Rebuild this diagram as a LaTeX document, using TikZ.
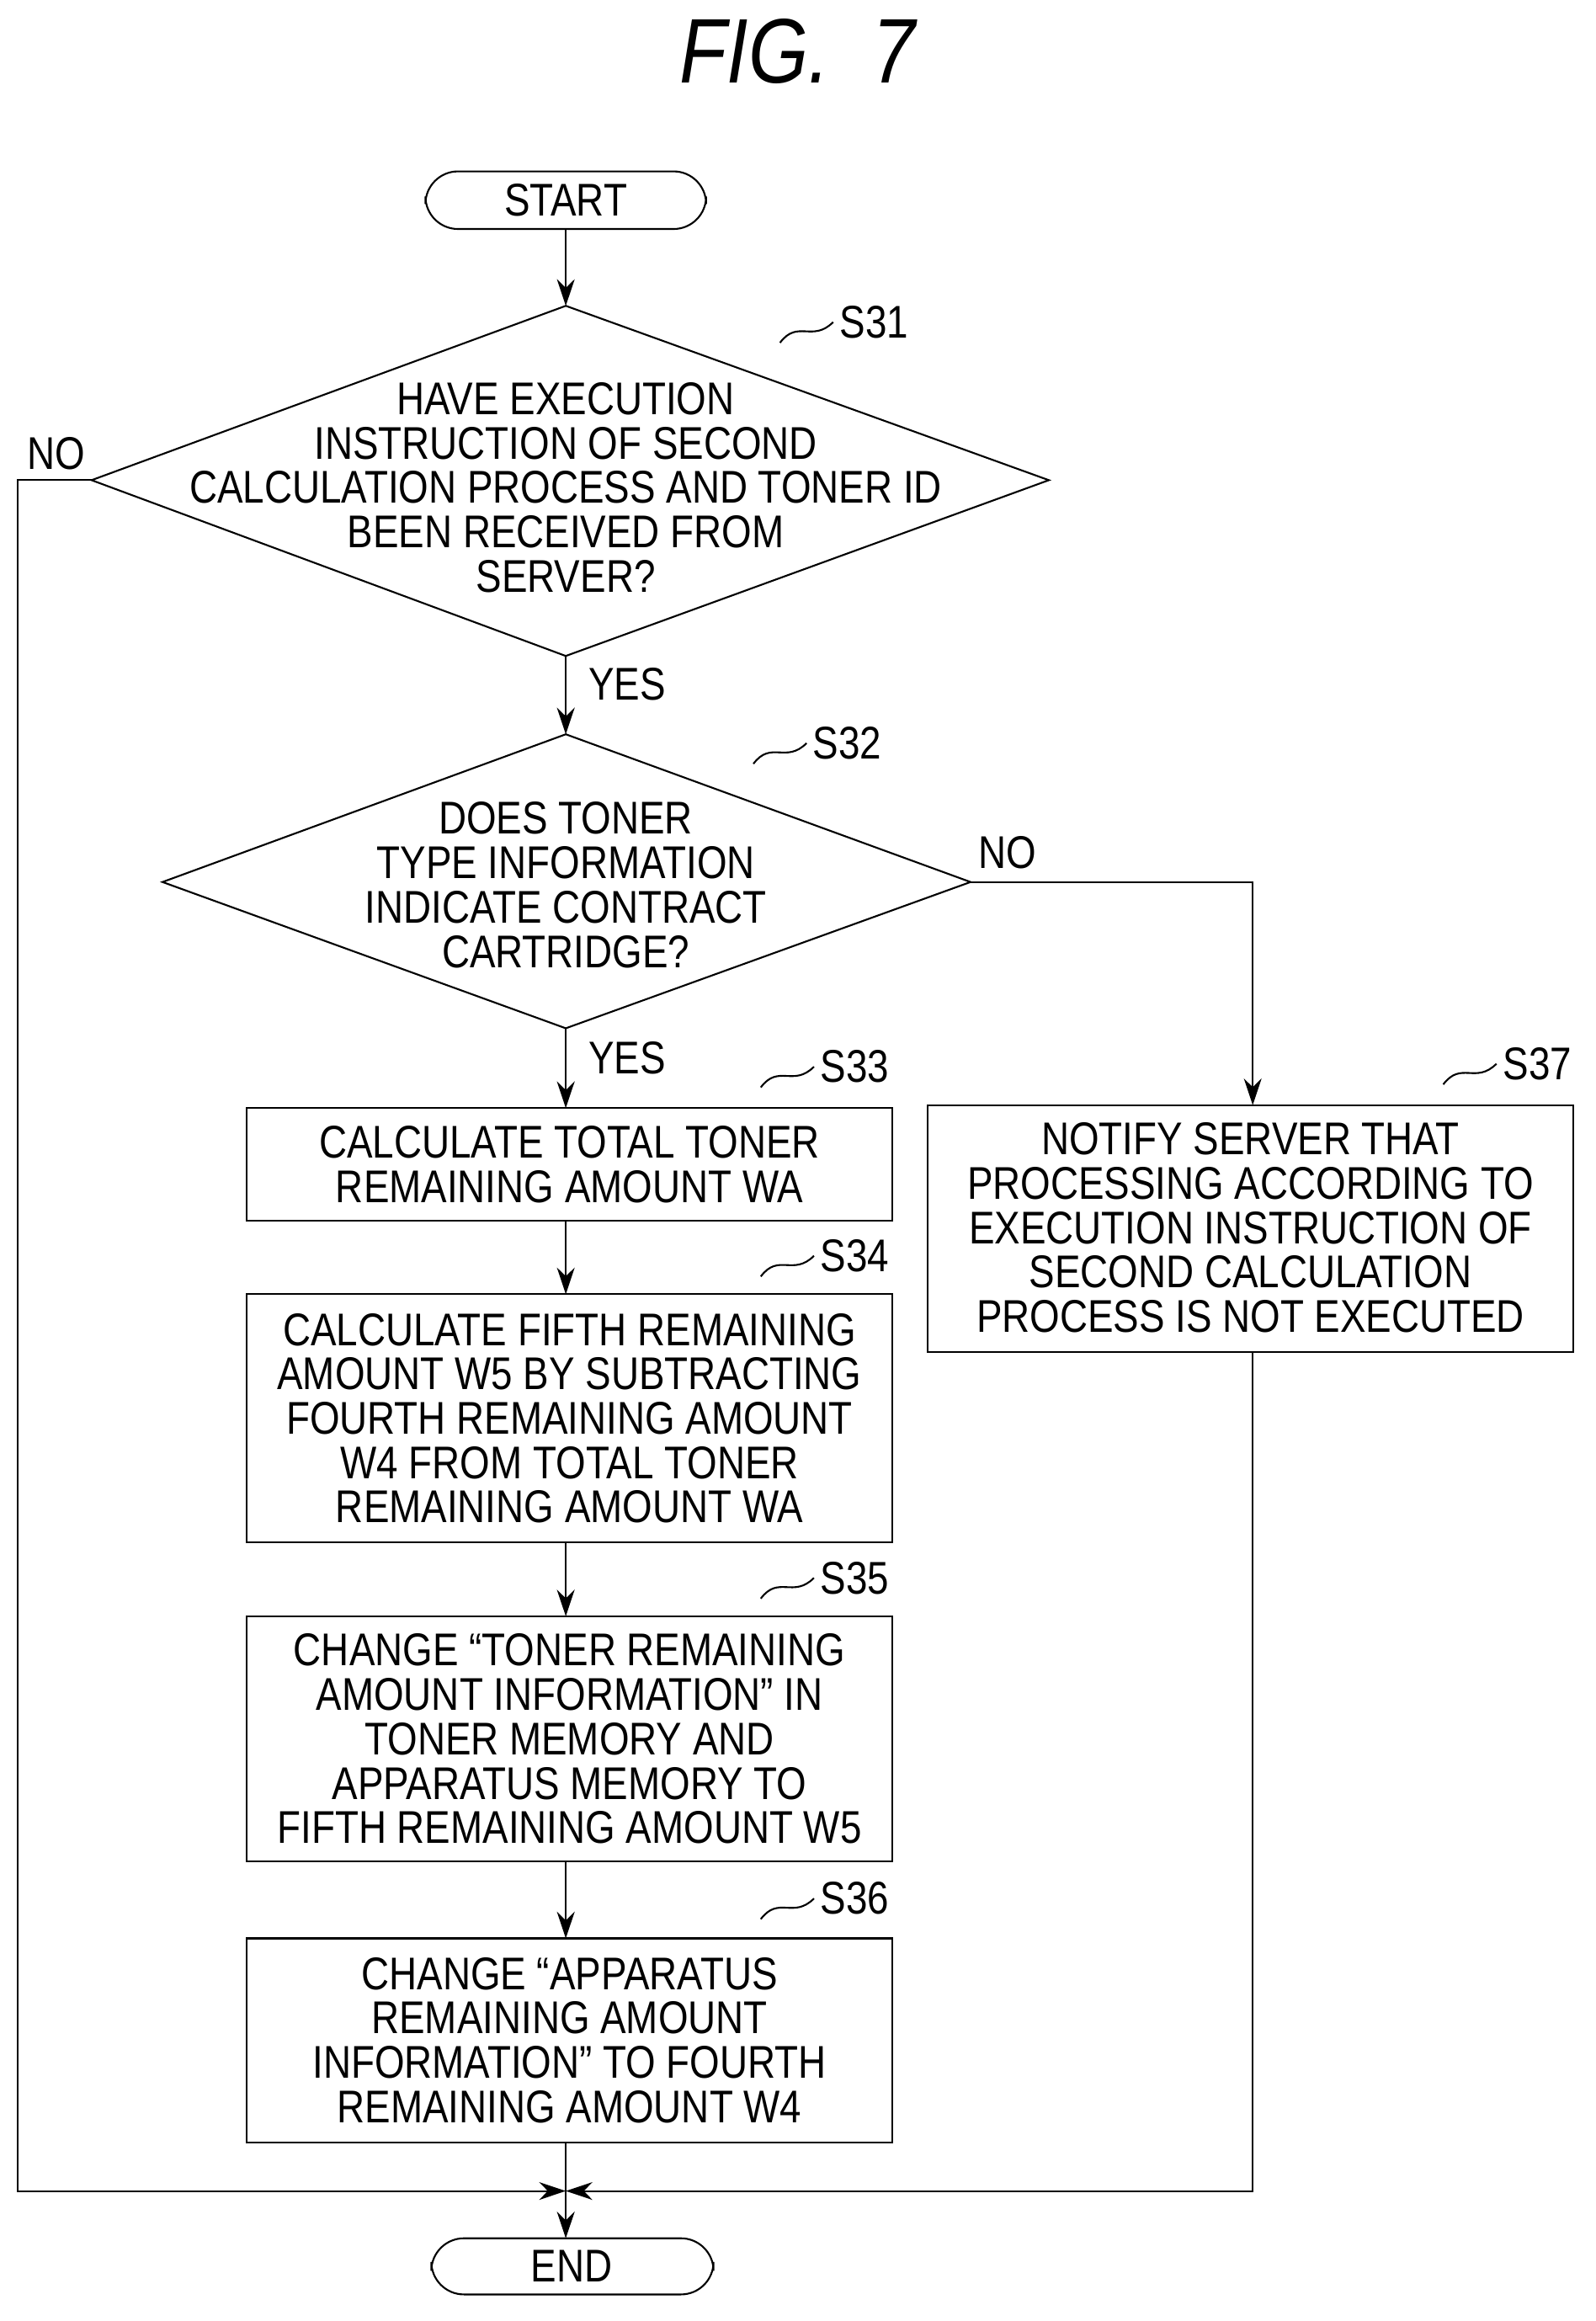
\documentclass[tikz,border=0pt]{standalone}
\usepackage{fontspec}
\setmainfont{Liberation Sans}[FakeStretch=0.84]
\usetikzlibrary{arrows.meta,shapes.geometric}
\tikzset{
  txt/.style={font=\fontsize{15.5pt}{15pt}\selectfont,align=center,inner sep=0pt},
  box/.style={draw,line width=0.6pt},
  term/.style={draw,line width=0.6pt,rounded corners=11pt},
  lbl/.style={font=\fontsize{15.5pt}{15pt}\selectfont,anchor=west,inner sep=0pt},
  arr/.style={-{Stealth[length=9pt,width=6pt]},line width=0.6pt},
  ln/.style={line width=0.6pt}
}
\begin{document}
\begin{tikzpicture}[x=0.01755cm,y=-0.01755cm]
\useasboundingbox (0,0) rectangle (1080,1571);
\node[font=\fontsize{31pt}{31pt}\selectfont\itshape] (title) at (540,35) {FIG.\ \ 7};
% terminals
\draw[term] (288,116) rectangle (478,155);
\node[txt] (start) at (383,135.5) {START};
\draw[term] (292,1515) rectangle (483,1553);
\node[txt] (end) at (387,1534) {END};
% decisions
\draw[ln] (383,207) -- (710,325) -- (383,444) -- (62,325) -- cycle;
\node[txt] (s31) at (383,330) {HAVE EXECUTION\\INSTRUCTION OF SECOND\\CALCULATION PROCESS AND TONER ID\\BEEN RECEIVED FROM\\SERVER?};
\draw[ln] (383,497) -- (657,597) -- (383,696) -- (110,597) -- cycle;
\node[txt] (s32) at (383,599) {DOES TONER\\TYPE INFORMATION\\INDICATE CONTRACT\\CARTRIDGE?};
% boxes
\draw[box] (167,750) rectangle (604,826);
\node[txt] (s33) at (385.5,788) {CALCULATE TOTAL TONER\\REMAINING AMOUNT WA};
\draw[box] (167,876) rectangle (604,1044);
\node[txt] (s34) at (385.5,960) {CALCULATE FIFTH REMAINING\\AMOUNT W5 BY SUBTRACTING\\FOURTH REMAINING AMOUNT\\W4 FROM TOTAL TONER\\REMAINING AMOUNT WA};
\draw[box] (167,1094) rectangle (604,1260);
\node[txt] (s35) at (385.5,1177) {CHANGE “TONER REMAINING\\AMOUNT INFORMATION” IN\\TONER MEMORY AND\\APPARATUS MEMORY TO\\FIFTH REMAINING AMOUNT W5};
\draw[box] (167,1312) rectangle (604,1450);
\node[txt] (s36) at (385.5,1381) {CHANGE “APPARATUS\\REMAINING AMOUNT\\INFORMATION” TO FOURTH\\REMAINING AMOUNT W4};
\draw[box] (628,748) rectangle (1065,915);
\node[txt] (s37) at (846.5,831) {NOTIFY SERVER THAT\\PROCESSING ACCORDING TO\\EXECUTION INSTRUCTION OF\\SECOND CALCULATION\\PROCESS IS NOT EXECUTED};
% step labels
\foreach \n/\x/\y in {31/568/218,32/550/503,33/555/722,34/555/850,35/555/1068,36/555/1285,37/1017/720}{
  \node[lbl] (l\n) at (\x,\y) {S\n};
  \draw[ln] (\x-40,\y+14) .. controls (\x-28,\y-2) and (\x-18,\y+14) .. (\x-4,\y);
}
% connector points
\coordinate (c31t) at (383,207);
\coordinate (c31b) at (383,444);
\coordinate (c31l) at (62,325);
\coordinate (c32t) at (383,497);
\coordinate (c32b) at (383,696);
\coordinate (c32r) at (657,597);
\coordinate (m) at (383,1483);
\draw[arr] (383,155) -- (c31t);
\draw[arr] (c31b) -- (c32t);
\draw[arr] (c32b) -- (383,750);
\draw[arr] (383,826) -- (383,876);
\draw[arr] (383,1044) -- (383,1094);
\draw[arr] (383,1260) -- (383,1312);
\draw[arr] (383,1450) -- (383,1515);
\draw[arr] (c31l) -- (12,325) -- (12,1483) -- (m);
\draw[arr] (c32r) -- (848,597) -- (848,748);
\draw[arr] (848,915) -- (848,1483) -- (m);
% branch labels
\node[lbl] (no1) at (18,307) {NO};
\node[lbl] (yes1) at (398,463) {YES};
\node[lbl] (no2) at (662,577) {NO};
\node[lbl] (yes2) at (398,716) {YES};
\end{tikzpicture}
\end{document}
